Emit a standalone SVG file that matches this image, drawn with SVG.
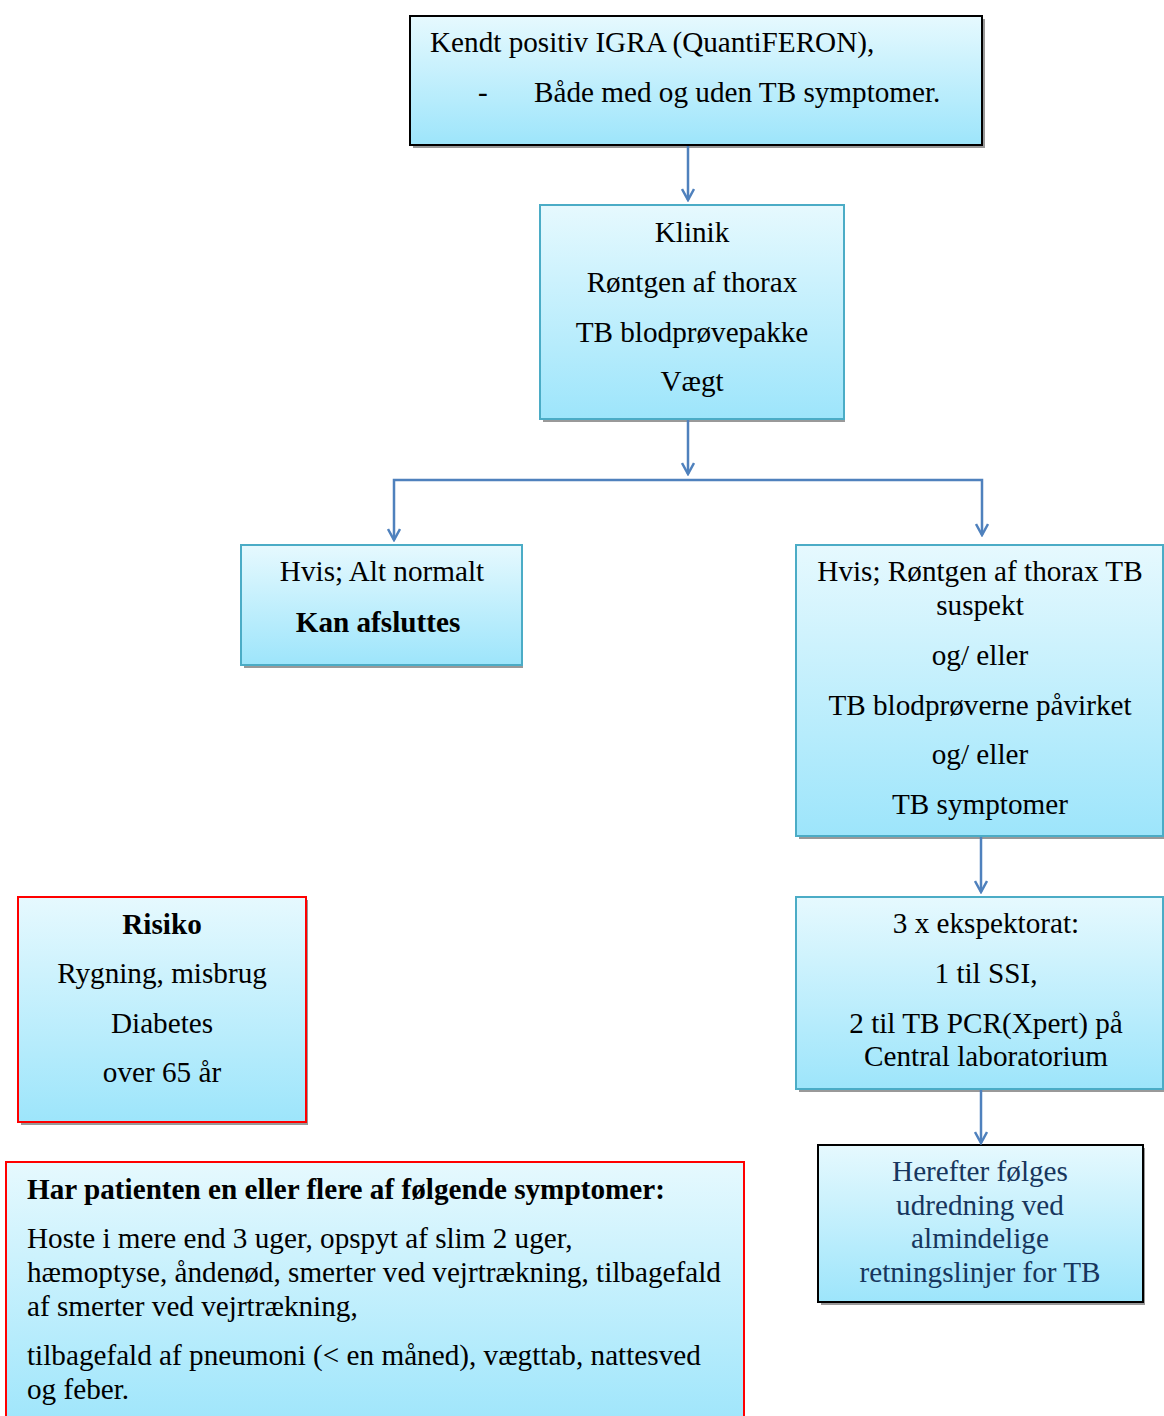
<svg xmlns="http://www.w3.org/2000/svg" width="1164" height="1416" viewBox="0 0 1164 1416">
<style>
text{font-family:"Liberation Serif","Times New Roman",serif;font-size:29.2px;fill:#000}
.c{text-anchor:middle}
.b{font-weight:bold}
.blue{fill:#17365D}
.box{fill:url(#g)}
.k{stroke:#000;stroke-width:2}
.t{stroke:#4BACC6;stroke-width:2}
.r{stroke:#FF0000;stroke-width:2}
.sh{fill:#999}
.con{stroke:#4F81BD;stroke-width:2.5;fill:none}
</style>
<defs>
<linearGradient id="g" x1="0" y1="0" x2="0" y2="1">
<stop offset="0" stop-color="#E6F9FE"/>
<stop offset="1" stop-color="#9DE5FB"/>
</linearGradient>
<marker id="a" markerWidth="14" markerHeight="14" refX="12" refY="7" orient="auto" markerUnits="userSpaceOnUse">
<path d="M1,1 L12,7 L1,13" fill="none" stroke="#4F81BD" stroke-width="2.5"/>
</marker>
</defs>
<rect width="1164" height="1416" fill="#fff"/>

<g id="n1">
<rect class="sh" x="413" y="19" width="572" height="129"/>
<rect class="box k" x="410" y="16" width="572" height="129"/>
<text x="430" y="52">Kendt positiv IGRA (QuantiFERON),</text>
<text x="478" y="102">-</text>
<text x="534" y="102">Både med og uden TB symptomer.</text>
</g>

<g id="n2">
<rect class="sh" x="543" y="208" width="302" height="214"/>
<rect class="box t" x="540" y="205" width="304" height="214"/>
<text class="c" x="692" y="242">Klinik</text>
<text class="c" x="692" y="292">Røntgen af thorax</text>
<text class="c" x="692" y="342">TB blodprøvepakke</text>
<text class="c" x="692" y="391">Vægt</text>
</g>

<g id="n3">
<rect class="sh" x="244" y="548" width="279" height="120"/>
<rect class="box t" x="241" y="545" width="281" height="120"/>
<text class="c" x="382" y="581">Hvis; Alt normalt</text>
<text class="c b" x="378" y="632">Kan afsluttes</text>
</g>

<g id="n4">
<rect class="sh" x="799" y="548" width="365" height="291"/>
<rect class="box t" x="796" y="545" width="367" height="291"/>
<text class="c" x="980" y="581">Hvis; Røntgen af thorax TB</text>
<text class="c" x="980" y="615">suspekt</text>
<text class="c" x="980" y="665">og/ eller</text>
<text class="c" x="980" y="715">TB blodprøverne påvirket</text>
<text class="c" x="980" y="764">og/ eller</text>
<text class="c" x="980" y="814">TB symptomer</text>
</g>

<g id="n5">
<rect class="sh" x="799" y="900" width="365" height="192"/>
<rect class="box t" x="796" y="897" width="367" height="192"/>
<text class="c" x="986" y="933">3 x ekspektorat:</text>
<text class="c" x="986" y="983">1 til SSI,</text>
<text class="c" x="986" y="1033">2 til TB PCR(Xpert) på</text>
<text class="c" x="986" y="1066">Central laboratorium</text>
</g>

<g id="n6">
<rect class="sh" x="821" y="1148" width="324" height="157"/>
<rect class="box k" x="818" y="1145" width="325" height="157"/>
<text class="c blue" x="980" y="1181">Herefter følges</text>
<text class="c blue" x="980" y="1215">udredning ved</text>
<text class="c blue" x="980" y="1248">almindelige</text>
<text class="c blue" x="980" y="1282">retningslinjer for TB</text>
</g>

<g id="n7">
<rect class="sh" x="21" y="900" width="287" height="225"/>
<rect class="box r" x="18" y="897" width="288" height="225"/>
<text class="c b" x="162" y="934">Risiko</text>
<text class="c" x="162" y="983">Rygning, misbrug</text>
<text class="c" x="162" y="1033">Diabetes</text>
<text class="c" x="162" y="1082">over 65 år</text>
</g>

<g id="n8">
<rect class="box r" x="6" y="1162" width="738" height="270"/>
<text class="b" x="27" y="1199">Har patienten en eller flere af følgende symptomer:</text>
<text x="27" y="1248">Hoste i mere end 3 uger, opspyt af slim 2 uger,</text>
<text x="27" y="1282">hæmoptyse, åndenød, smerter ved vejrtrækning, tilbagefald</text>
<text x="27" y="1316">af smerter ved vejrtrækning,</text>
<text x="27" y="1365">tilbagefald af pneumoni (&lt; en måned), vægttab, nattesved</text>
<text x="27" y="1399">og feber.</text>
</g>

<g id="connectors">
<path class="con" d="M688,146 V200" marker-end="url(#a)"/>
<path class="con" d="M688,420 V474" marker-end="url(#a)"/>
<path class="con" d="M688,480 H394 V540" marker-end="url(#a)"/>
<path class="con" d="M688,480 H982 V535" marker-end="url(#a)"/>
<path class="con" d="M981,837 V892" marker-end="url(#a)"/>
<path class="con" d="M981,1090 V1143" marker-end="url(#a)"/>
</g>
</svg>
